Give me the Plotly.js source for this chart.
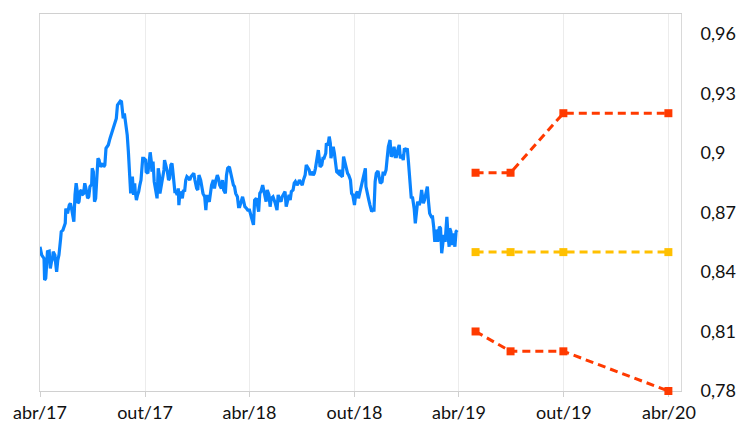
<!DOCTYPE html>
<html>
<head>
<meta charset="utf-8">
<script src="https://cdn.plot.ly/plotly-3.0.1.min.js"></script>
<style>
  html, body { margin: 0; padding: 0; background: #fff; }
  #chart { width: 747px; height: 428px; }
</style>
</head>
<body>
<div id="chart"></div>
<script>
// daily series, days counted from 2017-04-01
const seriesStart = '2017-04-01';
const days = [
  0,3,7,8,10,12,13,16,18,20,22,23,26,27,29,31,33,36,37,40,
  42,44,45,48,51,53,55,58,59,61,63,65,66,68,70,72,73,76,78,80,
  83,85,87,90,91,93,95,97,99,101,103,105,107,109,111,113,115,117,119,122,
  124,126,129,131,133,135,137,140,142,144,145,147,149,152,154,156,158,159,161,163,
  165,166,168,170,172,174,176,179,181,
  184,185,188,190,192,194,195,197,199,202,204,206,208,209,211,213,216,217,220,222,
  224,226,228,230,231,233,235,237,239,241,242,244,246,248,250,252,254,256,259,261,
  263,266,268,270,273,275,277,280,282,284,287,289,291,292,295,297,299,302,304,306,
  309,311,313,316,318,320,323,325,327,330,332,334,337,339,341,344,346,348,351,353,
  355,357,360,362,
  365,367,370,372,374,377,379,381,383,385,388,390,392,394,396,399,401,403,406,408,
  410,413,415,417,420,422,424,427,429,431,434,436,438,441,443,445,448,450,452,455,
  457,459,462,464,466,469,471,473,476,478,480,482,485,487,488,491,493,495,498,499,
  502,504,506,507,509,511,513,515,517,520,522,524,527,529,531,534,536,538,541,543,
  545,548,
  550,553,555,557,560,562,564,567,568,571,573,575,578,580,582,584,586,589,591,593,
  596,598,600,603,605,607,610,612,614,617,619,621,624,626,628,631,633,635,638,640,
  642,643,645,647,649,652,654,656,658,661,663,665,668,670,672,675,677,679,682,684,
  686,688,690,692,693,696,698,700,702,704,706,707,709,711,713,714,716,718,720,721,
  723,725,727
];
const rate = [
  0.8527,0.8485,0.8468,0.8359,0.8368,0.8452,0.8502,0.8505,0.8418,0.8452,
  0.8468,0.8502,0.8485,0.8452,0.8401,0.8460,0.8485,0.8569,0.8603,0.8611,
  0.8636,0.8645,0.8720,0.8695,0.8737,0.8746,0.8720,0.8670,0.8653,0.8788,
  0.8847,0.8805,0.8746,0.8754,0.8805,0.8813,0.8788,0.8796,0.8847,0.8821,
  0.8771,0.8779,0.8830,0.8841,0.8922,0.8905,0.8754,0.8771,0.8847,0.8973,
  0.8964,0.8930,0.8939,0.8947,0.8930,0.8939,0.9023,0.9031,0.9040,0.9073,
  0.9090,0.9115,0.9132,0.9149,0.9174,0.9241,0.9250,0.9261,0.9258,0.9208,
  0.9174,0.9199,0.9157,0.9090,0.9006,0.8872,0.8796,0.8838,0.8880,0.8788,
  0.8847,0.8805,0.8762,0.8788,0.8805,0.8838,0.8863,0.8973,0.8973,
  0.8964,0.8905,0.8897,0.8939,0.9003,0.8956,0.8905,0.8956,0.8855,0.8805,
  0.8771,0.8922,0.8888,0.8796,0.8830,0.8847,0.8914,0.8964,0.8930,0.8905,
  0.8863,0.8872,0.8939,0.8947,0.8922,0.8838,0.8805,0.8805,0.8788,0.8821,
  0.8737,0.8805,0.8788,0.8771,0.8813,0.8805,0.8863,0.8880,0.8872,0.8863,
  0.8880,0.8888,0.8897,0.8863,0.8821,0.8813,0.8888,0.8863,0.8821,0.8796,
  0.8779,0.8712,0.8788,0.8771,0.8754,0.8796,0.8838,0.8863,0.8821,0.8855,
  0.8888,0.8872,0.8838,0.8821,0.8863,0.8813,0.8796,0.8888,0.8922,0.8930,
  0.8905,0.8872,0.8838,0.8830,0.8796,0.8779,0.8729,0.8729,0.8754,0.8779,
  0.8754,0.8729,0.8720,0.8712,
  0.8712,0.8687,0.8645,0.8637,0.8762,0.8771,0.8737,0.8704,0.8796,0.8805,
  0.8838,0.8813,0.8788,0.8754,0.8813,0.8788,0.8729,0.8771,0.8779,0.8754,
  0.8746,0.8712,0.8788,0.8771,0.8754,0.8779,0.8788,0.8805,0.8729,0.8754,
  0.8788,0.8762,0.8805,0.8813,0.8847,0.8855,0.8838,0.8847,0.8863,0.8847,
  0.8838,0.8863,0.8888,0.8939,0.8930,0.8914,0.8888,0.8905,0.8888,0.8897,
  0.8922,0.8956,0.9014,0.8964,0.8930,0.8939,0.8973,0.8973,0.8998,0.9048,
  0.9040,0.9082,0.9048,0.8973,0.9006,0.9031,0.8998,0.8939,0.8905,0.8897,
  0.8914,0.8888,0.8880,0.8981,0.8956,0.8905,0.8897,0.8888,0.8863,0.8796,
  0.8788,0.8737,
  0.8788,0.8805,0.8771,0.8796,0.8838,0.8855,0.8880,0.8922,0.8830,0.8779,
  0.8762,0.8737,0.8704,0.8712,0.8712,0.8855,0.8897,0.8909,0.8880,0.8847,
  0.8855,0.8905,0.8888,0.8914,0.8973,0.9031,0.9065,0.8981,0.8989,0.9031,
  0.8981,0.8981,0.9023,0.9040,0.8973,0.8989,0.8964,0.9023,0.9014,0.9023,
  0.8956,0.8922,0.8872,0.8771,0.8779,0.8720,0.8645,0.8687,0.8754,0.8737,
  0.8762,0.8813,0.8746,0.8762,0.8788,0.8830,0.8754,0.8695,0.8678,0.8678,
  0.8628,0.8552,0.8611,0.8603,0.8552,0.8628,0.8620,0.8494,0.8544,0.8586,
  0.8552,0.8620,0.8678,0.8586,0.8527,0.8620,0.8603,0.8536,0.8578,0.8594,
  0.8527,0.8603,0.8611
];

// projections
const projDates = ['2019-04-30', '2019-06-30', '2019-09-30', '2020-03-31'];
const projHigh = [0.89, 0.89, 0.92, 0.92];
const projMid = [0.85, 0.85, 0.85, 0.85];
const projLow = [0.81, 0.80, 0.80, 0.78];

// axis ticks
const xTickVals = ['2017-04-01', '2017-10-01', '2018-04-01', '2018-10-01', '2019-04-01', '2019-10-01', '2020-04-01'];
const xTickText = ['abr/17', 'out/17', 'abr/18', 'out/18', 'abr/19', 'out/19', 'abr/20'];
const yTickVals = [0.78, 0.81, 0.84, 0.87, 0.90, 0.93, 0.96];
const yTickText = ['0,78', '0,81', '0,84', '0,87', '0,9', '0,93', '0,96'];

const t0 = Date.parse(seriesStart + 'T00:00:00Z');
const rateDates = days.map(d => new Date(t0 + d * 86400000).toISOString().slice(0, 10));

const red = '#ff3a00';
const gold = '#ffc000';

function projTrace(y, color) {
    return {
        x: projDates,
        y: y,
        type: 'scatter',
        mode: 'lines+markers',
        line: { color: color, width: 3, dash: '8px,5px' },
        marker: { color: color, size: 8, symbol: 'square' },
        cliponaxis: false,
        hoverinfo: 'x+y'
    };
}

const traces = [
    {
        x: rateDates,
        y: rate,
        type: 'scatter',
        mode: 'lines',
        line: { color: '#0a84ff', width: 3.2 },
        hoverinfo: 'x+y'
    },
    projTrace(projHigh, red),
    projTrace(projMid, gold),
    projTrace(projLow, red)
];

const font = { family: 'Lato, "Open Sans", sans-serif', size: 18, color: '#111111' };

const layout = {
    width: 747,
    height: 428,
    margin: { l: 40, r: 66, t: 14, b: 37 },
    paper_bgcolor: '#ffffff',
    plot_bgcolor: '#ffffff',
    showlegend: false,
    font: font,
    xaxis: {
        type: 'date',
        range: ['2017-04-01', '2020-04-22'],
        tickvals: xTickVals,
        ticktext: xTickText,
        showgrid: true,
        gridcolor: '#ececec',
        showline: true,
        mirror: true,
        linecolor: '#d0d0d0',
        linewidth: 1,
        ticks: 'outside',
        ticklen: 5,
        tickcolor: '#d0d0d0',
        tickfont: font,
        zeroline: false,
        layer: 'below traces'
    },
    yaxis: {
        side: 'right',
        range: [0.78, 0.97],
        tickvals: yTickVals,
        ticktext: yTickText,
        showgrid: false,
        showline: true,
        mirror: true,
        linecolor: '#d9d9d9',
        linewidth: 1,
        ticks: '',
        ticklabelstandoff: 15,
        tickfont: font,
        zeroline: false,
        layer: 'below traces'
    }
};

Plotly.newPlot('chart', traces, layout, { displayModeBar: false, staticPlot: true });
</script>
</body>
</html>
